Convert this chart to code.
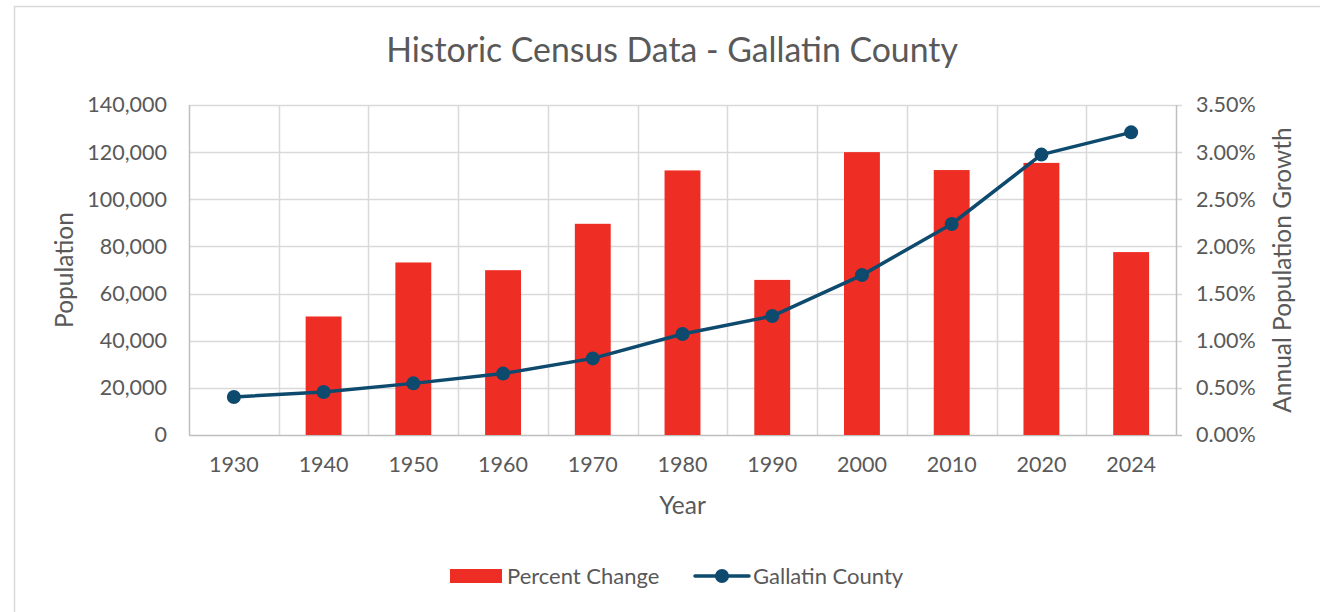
<!DOCTYPE html>
<html>
<head>
<meta charset="utf-8">
<script src="https://cdn.jsdelivr.net/npm/d3@7"></script>
<style>
  body { margin: 0; background: #fff; }
  svg text { font-family: Lato, 'Open Sans', sans-serif; fill: #595959; }
</style>
</head>
<body>
<div id="chart"></div>
<script>
// DATA
const years = ['1930', '1940', '1950', '1960', '1970', '1980', '1990', '2000', '2010', '2020', '2024'];
const population = [16124, 18269, 21902, 26045, 32505, 42865, 50463, 67831, 89513, 118960, 128400];
const percentChange = [null, 0.01257, 0.0183, 0.01748, 0.0224, 0.02806, 0.01645, 0.0300, 0.0281, 0.02886, 0.0194];
const popTicks = [0, 20000, 40000, 60000, 80000, 100000, 120000, 140000];
const pctTicks = [0, 0.005, 0.01, 0.015, 0.02, 0.025, 0.03, 0.035];

const width = 1320;
const height = 612;
const margin = { top: 105, right: 144, bottom: 177, left: 189 };
const barColor = '#EE2E24';
const lineColor = '#0E4A6E';
const gridColor = '#D9D9D9';
const axisColor = '#BFBFBF';

const svg = d3
  .select('#chart')
  .append('svg')
  .attr('width', width)
  .attr('height', height);

// chart border
svg
  .append('rect')
  .attr('x', 14.5)
  .attr('y', 6.5)
  .attr('width', width + 20)
  .attr('height', height + 20)
  .attr('fill', 'none')
  .attr('stroke', '#D9D9D9')
  .attr('stroke-width', 1.5);

// SCALES
const x = d3
  .scaleBand()
  .domain(years)
  .range([margin.left, width - margin.right]);

const yLeft = d3
  .scaleLinear()
  .domain([0, 140000])
  .range([height - margin.bottom, margin.top]);

const yRight = d3
  .scaleLinear()
  .domain([0, 0.035])
  .range([height - margin.bottom, margin.top]);

const plotLeft = margin.left;
const plotRight = width - margin.right;
const plotBottom = height - margin.bottom;

// GRID
const grid = svg.append('g');
grid
  .selectAll('.hgrid')
  .data(popTicks.slice(1))
  .enter()
  .append('line')
  .attr('x1', plotLeft)
  .attr('x2', plotRight + 6)
  .attr('y1', d => Math.round(yLeft(d)) + 0.5)
  .attr('y2', d => Math.round(yLeft(d)) + 0.5)
  .attr('stroke', gridColor)
  .attr('stroke-width', 1.5);

grid
  .selectAll('.vgrid')
  .data(years.slice(1))
  .enter()
  .append('line')
  .attr('x1', d => Math.round(x(d)) + 0.5)
  .attr('x2', d => Math.round(x(d)) + 0.5)
  .attr('y1', margin.top)
  .attr('y2', plotBottom)
  .attr('stroke', gridColor)
  .attr('stroke-width', 1.5);

// axis lines
svg
  .append('line')
  .attr('x1', plotLeft + 0.5)
  .attr('x2', plotLeft + 0.5)
  .attr('y1', margin.top)
  .attr('y2', plotBottom)
  .attr('stroke', axisColor)
  .attr('stroke-width', 1.5);

svg
  .append('line')
  .attr('x1', plotRight + 0.5)
  .attr('x2', plotRight + 0.5)
  .attr('y1', margin.top)
  .attr('y2', plotBottom)
  .attr('stroke', axisColor)
  .attr('stroke-width', 1.5);

svg
  .append('line')
  .attr('x1', plotLeft)
  .attr('x2', plotRight + 6)
  .attr('y1', plotBottom + 0.5)
  .attr('y2', plotBottom + 0.5)
  .attr('stroke', axisColor)
  .attr('stroke-width', 1.5);

// AXES (labels only, lines drawn above)
const leftAxis = svg
  .append('g')
  .attr('transform', `translate(${plotLeft - 22}, 0)`)
  .call(
    d3
      .axisLeft(yLeft)
      .tickValues(popTicks)
      .tickSize(0)
      .tickPadding(0)
      .tickFormat(d3.format(','))
  );

const rightAxis = svg
  .append('g')
  .attr('transform', `translate(${plotRight + 20}, 0)`)
  .call(
    d3
      .axisRight(yRight)
      .tickValues(pctTicks)
      .tickSize(0)
      .tickPadding(0)
      .tickFormat(d3.format('.2%'))
  );

const bottomAxis = svg
  .append('g')
  .attr('transform', `translate(0, ${plotBottom + 18})`)
  .call(
    d3
      .axisBottom(x)
      .tickSize(0)
      .tickPadding(0)
  );

[leftAxis, rightAxis, bottomAxis].forEach(a => {
  a.select('.domain').remove();
  a.selectAll('text')
    .style('font-size', '21.5px')
    .attr('fill', '#595959');
});
bottomAxis.selectAll('text').attr('dy', '0.9em');

// BARS
svg
  .append('g')
  .selectAll('.bar')
  .data(years.map((y, i) => ({ year: y, value: percentChange[i] })).filter(d => d.value != null))
  .enter()
  .append('rect')
  .attr('x', d => x(d.year) + x.bandwidth() * 0.3)
  .attr('width', x.bandwidth() * 0.4)
  .attr('y', d => yRight(d.value))
  .attr('height', d => plotBottom - yRight(d.value))
  .attr('fill', barColor);

// LINE
const points = years.map((y, i) => ({ year: y, value: population[i] }));
const line = d3
  .line()
  .x(d => x(d.year) + x.bandwidth() / 2)
  .y(d => yLeft(d.value));

svg
  .append('path')
  .datum(points)
  .attr('d', line)
  .attr('fill', 'none')
  .attr('stroke', lineColor)
  .attr('stroke-width', 3.5)
  .attr('stroke-linejoin', 'round');

svg
  .append('g')
  .selectAll('circle')
  .data(points)
  .enter()
  .append('circle')
  .attr('cx', d => x(d.year) + x.bandwidth() / 2)
  .attr('cy', d => yLeft(d.value))
  .attr('r', 7)
  .attr('fill', lineColor);

// TITLES
svg
  .append('text')
  .attr('x', 672)
  .attr('y', 62)
  .attr('text-anchor', 'middle')
  .style('font-size', '33.8px')
  .text('Historic Census Data - Gallatin County');

svg
  .append('text')
  .attr('transform', `translate(73, ${(margin.top + plotBottom) / 2}) rotate(-90)`)
  .attr('text-anchor', 'middle')
  .style('font-size', '24.5px')
  .text('Population');

svg
  .append('text')
  .attr('transform', `translate(1291, ${(margin.top + plotBottom) / 2}) rotate(-90)`)
  .attr('text-anchor', 'middle')
  .style('font-size', '24.5px')
  .text('Annual Population Growth');

svg
  .append('text')
  .attr('x', (plotLeft + plotRight) / 2)
  .attr('y', 514)
  .attr('text-anchor', 'middle')
  .style('font-size', '24.5px')
  .text('Year');

// LEGEND
const legend = svg.append('g').attr('transform', 'translate(0, 576)');
legend
  .append('rect')
  .attr('x', 450)
  .attr('y', -7)
  .attr('width', 52)
  .attr('height', 14)
  .attr('fill', barColor);
legend
  .append('text')
  .attr('x', 507)
  .attr('y', 8)
  .style('font-size', '22px')
  .text('Percent Change');
legend
  .append('line')
  .attr('x1', 695)
  .attr('x2', 749)
  .attr('y1', 0)
  .attr('y2', 0)
  .attr('stroke', lineColor)
  .attr('stroke-width', 3.5)
  .attr('stroke-linecap', 'round');
legend
  .append('circle')
  .attr('cx', 722)
  .attr('cy', 0)
  .attr('r', 7)
  .attr('fill', lineColor);
legend
  .append('text')
  .attr('x', 753)
  .attr('y', 8)
  .style('font-size', '22px')
  .text('Gallatin County');
</script>
</body>
</html>
